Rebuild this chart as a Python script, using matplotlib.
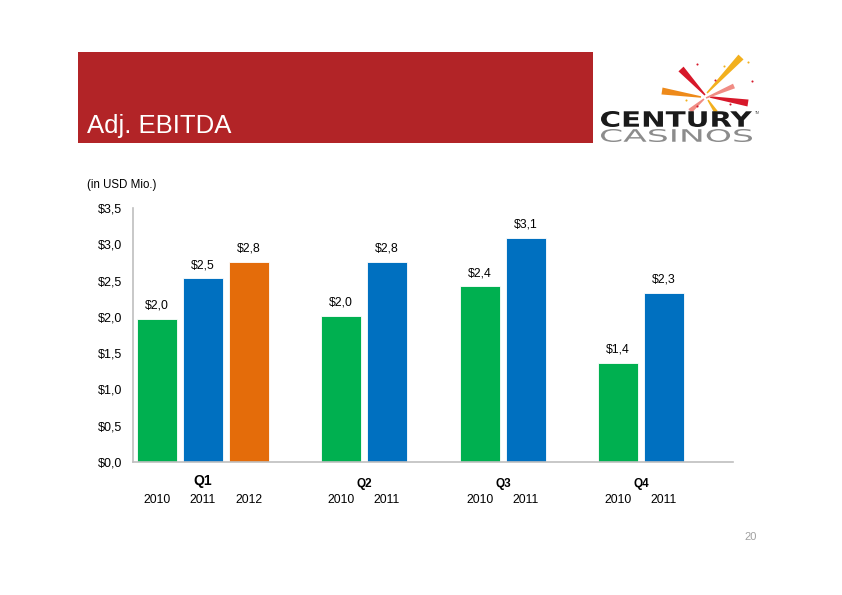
import numpy as np
import matplotlib
matplotlib.use('Agg')
import matplotlib.pyplot as plt
from matplotlib.patches import Rectangle, Polygon, PathPatch
from matplotlib.textpath import TextPath
from matplotlib.font_manager import FontProperties
from matplotlib.transforms import Affine2D

plt.rcParams['font.family'] = ['Liberation Sans', 'DejaVu Sans']

# data
quarters = ['Q1', 'Q2', 'Q3', 'Q4']
years = ['2010', '2011', '2012']
vals_2010 = [1.97, 2.01, 2.42, 1.37]
vals_2011 = [2.53, 2.76, 3.09, 2.33]
vals_2012 = [2.76]
labels_2010 = ['$2,0', '$2,0', '$2,4', '$1,4']
labels_2011 = ['$2,5', '$2,8', '$3,1', '$2,3']
labels_2012 = ['$2,8']
yticks = [0, 0.5, 1.0, 1.5, 2.0, 2.5, 3.0, 3.5]
ytick_labels = ['$0,0', '$0,5', '$1,0', '$1,5', '$2,0', '$2,5', '$3,0', '$3,5']

colors = ['#00B050', '#0070C0', '#E46C0A']
W, H = 842, 595

fig = plt.figure(figsize=(W / 100, H / 100), dpi=100)

# decoration layer in pixel coords
deco = fig.add_axes([0, 0, 1, 1])
deco.set_xlim(0, W)
deco.set_ylim(H, 0)
deco.axis('off')
deco.add_patch(Rectangle((78, 52), 515, 91, color='#B22427', lw=0))
deco.text(87, 133, 'Adj. EBITDA', color='white', fontsize=18.5, va='baseline', ha='left')
deco.text(87, 185, '(in USD Mio.)', color='#000000', fontsize=8.3, va='center', ha='left')
deco.text(751, 537, '20', color='#A0A0A0', fontsize=8, va='center', ha='center')

# logo fireworks
def stroke(p0, p1, w0, w1, col):
    p0 = np.array(p0, float); p1 = np.array(p1, float)
    d = p1 - p0
    n = np.array([-d[1], d[0]]) / np.hypot(*d)
    pts = [p0 + n * w0 / 2, p1 + n * w1 / 2, p1 - n * w1 / 2, p0 - n * w0 / 2]
    deco.add_patch(Polygon(pts, closed=True, color=col, lw=0))

stroke((705, 95), (681, 69), 1.5, 7, '#D7182A')
stroke((707, 93), (741, 57), 1.5, 7, '#F2B01E')
stroke((701, 97), (662, 91), 1.5, 7, '#EE8A1A')
stroke((710, 97), (748, 103), 1.5, 7, '#D7182A')
stroke((706, 98), (734, 86), 1.5, 5, '#F08C84')
stroke((704, 99), (690, 111), 1.5, 5, '#F08C84')
stroke((708, 100), (716, 112), 1.5, 4, '#F2B01E')
for (dx, dy, c) in [(697, 64, '#D7182A'), (724, 66, '#F2B01E'), (752, 81, '#D7182A'),
                    (686, 100, '#F2B01E'), (730, 104, '#D7182A'), (748, 62, '#F2B01E'),
                    (715, 80, '#D7182A'), (697, 106, '#D7182A')]:
    deco.plot(dx, dy, 'o', ms=1.5, color=c, mew=0)

def fit_text(s, x0, y0, x1, y1, col, weight):
    tp = TextPath((0, 0), s, size=10, prop=FontProperties(family='DejaVu Sans', weight=weight))
    bb = tp.get_extents()
    sx = (x1 - x0) / bb.width
    sy = (y1 - y0) / bb.height
    tr = Affine2D().translate(-bb.x0, -bb.y0).scale(sx, -sy).translate(x0, y1)
    deco.add_patch(PathPatch(tr.transform_path(tp), color=col, lw=0))

fit_text('CENTURY', 601, 111, 752, 127, '#1A1A1A', 'bold')
fit_text('CASINOS', 601, 129, 752, 142, '#8C8C8C', 'normal')
deco.text(755, 113, 'TM', fontsize=2.5, color='#555555', va='center')

# chart
ax = fig.add_axes([133 / W, 1 - 462 / H, 600 / W, 254 / H])
ax.set_xlim(133, 733)
ax.set_ylim(0, 3.5)
ax.patch.set_alpha(0)

group_first = [157, 341, 480, 618]
step, bw = 46, 40
series = [(vals_2010, labels_2010), (vals_2011, labels_2011), (vals_2012, labels_2012)]
for k, (vals, labs) in enumerate(series):
    xs = [group_first[i] + k * step for i in range(len(vals))]
    ax.bar(xs, vals, width=bw, color=colors[k], edgecolor='white', linewidth=0.6)
    for x, v, l in zip(xs, vals, labs):
        ax.text(x, v + 0.1, l, ha='center', va='bottom', fontsize=8.8)

ax.set_yticks(yticks)
ax.set_yticklabels(ytick_labels, fontsize=9)
ax.tick_params(axis='y', length=0, pad=8)
ax.set_xticks([])
for s in ['top', 'right']:
    ax.spines[s].set_visible(False)
for s in ['left', 'bottom']:
    ax.spines[s].set_color('#BFBFBF')
    ax.spines[s].set_linewidth(1.2)

# category labels
nyears = [3, 2, 2, 2]
for i, q in enumerate(quarters):
    n = nyears[i]
    cx = group_first[i] + step * (n - 1) / 2
    if i == 0:
        deco.text(cx, 481, q, ha='center', va='center', fontsize=10, fontweight='bold')
    else:
        deco.text(cx, 484, q, ha='center', va='center', fontsize=8.5, fontweight='bold')
    for k in range(n):
        deco.text(group_first[i] + k * step, 500, years[k], ha='center', va='center', fontsize=8.8)

fig.savefig('out.png', dpi=100)
